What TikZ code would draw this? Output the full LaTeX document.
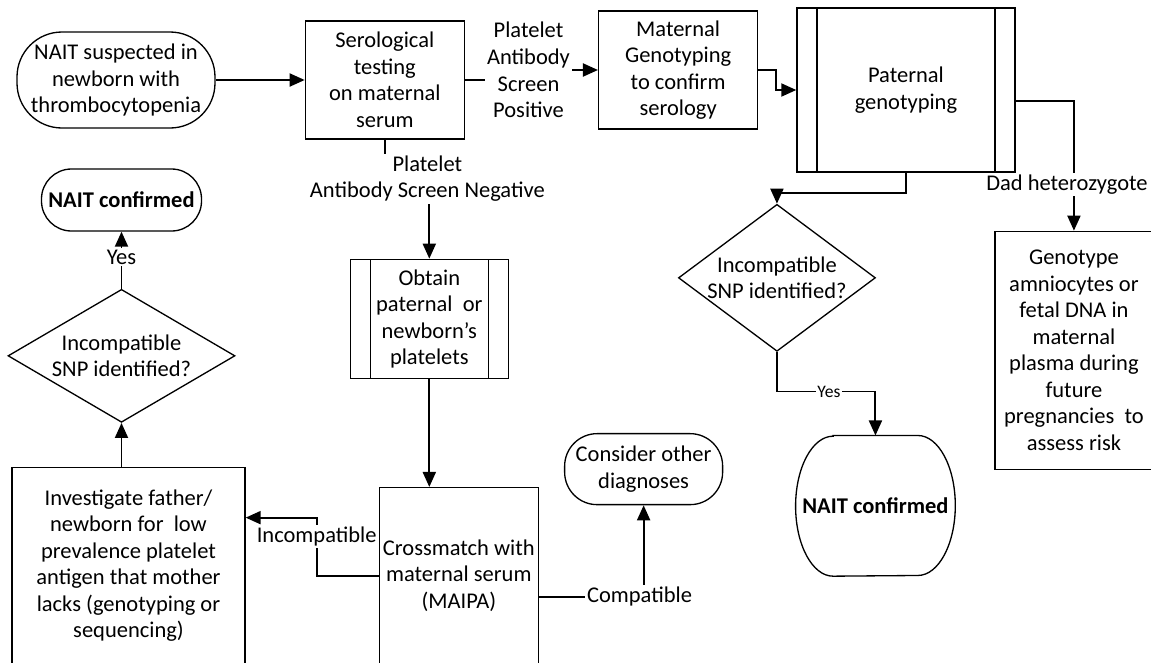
\documentclass[tikz,border=0pt]{standalone}
\usepackage{fontspec}
\setmainfont{Carlito}
\usetikzlibrary{shapes.geometric, arrows.meta, positioning, backgrounds}

\begin{document}
\begin{tikzpicture}[
    font=\fontsize{12.8}{15.1}\selectfont,
    >={Triangle[length=0.3cm, width=0.26cm]},
    node distance=1.0cm and 1.8cm,
    % --- styles ---
    % plain step box
    box/.style={draw, line width=0.75pt, align=center, inner sep=0pt, minimum width=3.18cm, minimum height=2.36cm},
    % start / end boxes
    term/.style={box, rounded corners=0.9cm, minimum width=3.96cm, minimum height=1.92cm},
    % predefined process: bars on both sides
    proc/.style={box, path picture={
        \draw[line width=0.75pt] ([xshift=0.4cm]path picture bounding box.north west) -- ([xshift=0.4cm]path picture bounding box.south west);
        \draw[line width=0.75pt] ([xshift=-0.4cm]path picture bounding box.north east) -- ([xshift=-0.4cm]path picture bounding box.south east);}},
    % decisions
    decision/.style={draw, diamond, line width=0.75pt, align=center, inner sep=-0.3cm, minimum width=3.94cm, minimum height=2.94cm},
    % labels sitting on the connectors
    lbl/.style={fill=white, inner sep=1pt, align=center},
    arrow/.style={->, line width=1.1pt}
]
\useasboundingbox (0,0) rectangle (23.02,-13.24);

% --- 1. Top row ---
\node[term] (start) at (2.32,-1.60) {NAIT suspected in\\newborn with\\thrombocytopenia};
\node[box, right=1.78cm of start] (sero) {Serological\\testing\\on maternal\\serum};
\node[lbl, right=0.40cm of sero, yshift=0.20cm] (posLbl) {Platelet\\Antibody\\Screen\\Positive};
\node[box, right=2.66cm of sero, yshift=0.20cm] (mat) {Maternal\\Genotyping\\to confirm\\serology};
\node[proc, right=0.76cm of mat, yshift=-0.40cm, minimum width=4.36cm, minimum height=3.28cm] (pat) {Paternal\\genotyping};

% --- 2. Right branch ---
\node[decision, below=0.62cm of pat, xshift=-2.58cm] (diamR) {Incompatible\\SNP identified?};
\node[lbl, font=\fontsize{10}{12}\selectfont, below right=0.79cm and 1.04cm of diamR.south, anchor=center] (yesR) {Yes};
\node[minimum width=3.18cm, minimum height=2.80cm, below=1.67cm of diamR, xshift=1.97cm] (naitR) {\textbf{NAIT confirmed}};
\draw[line width=0.75pt] ([xshift=0.75cm]naitR.north west) -- ([xshift=-0.75cm]naitR.north east)
    arc[start angle=90, end angle=-90, x radius=0.75cm, y radius=1.4cm]
    -- ([xshift=0.75cm]naitR.south west)
    arc[start angle=270, end angle=90, x radius=0.75cm, y radius=1.4cm] -- cycle;
\node[box, below=1.16cm of pat, xshift=3.36cm, minimum width=3.16cm, minimum height=4.76cm] (geno) {Genotype\\amniocytes or\\fetal DNA in\\maternal\\plasma during\\future\\pregnancies~ to\\assess risk};
\node[lbl, above=0.68cm of geno, xshift=-0.14cm] (dadLbl) {Dad heterozygote};

% --- 3. Negative screen branch ---
\node[lbl, below=0.28cm of sero, xshift=0.85cm] (negLbl) {Platelet\\Antibody Screen Negative};
\node[proc, below=2.38cm of sero, xshift=0.89cm, minimum width=3.16cm, minimum height=2.38cm] (obtain) {Obtain\\paternal~ or\\newborn’s\\platelets};
\node[box, below=2.16cm of obtain, xshift=0.59cm, minimum height=3.52cm] (cross) {Crossmatch with\\maternal serum\\(MAIPA)};
\node[term, right=0.50cm of cross, yshift=2.13cm, rounded corners=0.65cm, minimum width=3.16cm, minimum height=1.42cm] (consider) {Consider other\\diagnoses};
\node[lbl, right=0.92cm of cross, yshift=-0.42cm] (compLbl) {Compatible};
\node[box, left=2.66cm of cross, yshift=0.20cm, minimum width=4.66cm, minimum height=3.92cm] (inv) {Investigate father/\\newborn for~ low\\prevalence platelet\\antigen that mother\\lacks (genotyping or\\sequencing)};
\node[lbl, left=0cm of cross, yshift=0.78cm] (incLbl) {Incompatible};
\coordinate (incBend) at ([yshift=0.38cm]incLbl.center);

% --- 4. Left branch ---
\node[decision, above=0.88cm of inv, xshift=-0.14cm, minimum width=4.54cm, minimum height=2.66cm] (diamL) {Incompatible\\SNP identified?};
\node[lbl, above=0.44cm of diamL] (yesL) {Yes};
\node[term, above=1.14cm of diamL, rounded corners=0.6cm, minimum width=3.2cm, minimum height=1.24cm] (naitL) {\textbf{NAIT confirmed}};

% --- 5. Connectors ---
\begin{scope}[on background layer]
\draw[arrow] (start) -- (sero);
\draw[arrow] (sero.east) -| (posLbl.center) |- (mat.west);
\draw[arrow] (mat.east) -- ++(0.36,0) |- (pat.west);
\draw[arrow] (pat.south) -- ++(0,-0.4) -| (diamR.north);
\draw[arrow] (diamR.south) |- (yesR.center) -| (naitR.north);
\draw[arrow] ([yshift=-0.22cm]pat.east) -| (geno.north);
\draw[arrow] (sero.south) |- (negLbl.center -| obtain.north) -- (obtain.north);
\draw[arrow] (obtain.south) -- (obtain.south |- cross.north);
\draw[arrow] ([yshift=-0.42cm]cross.east) -| (consider.south);
\draw[arrow] (cross.west) -| (incBend) -- (incBend -| inv.east);
\draw[arrow] (diamL.south |- inv.north) -- (diamL.south);
\draw[arrow] (diamL.north) -- (diamL.north |- naitL.south);
\end{scope}

\end{tikzpicture}
\end{document}
